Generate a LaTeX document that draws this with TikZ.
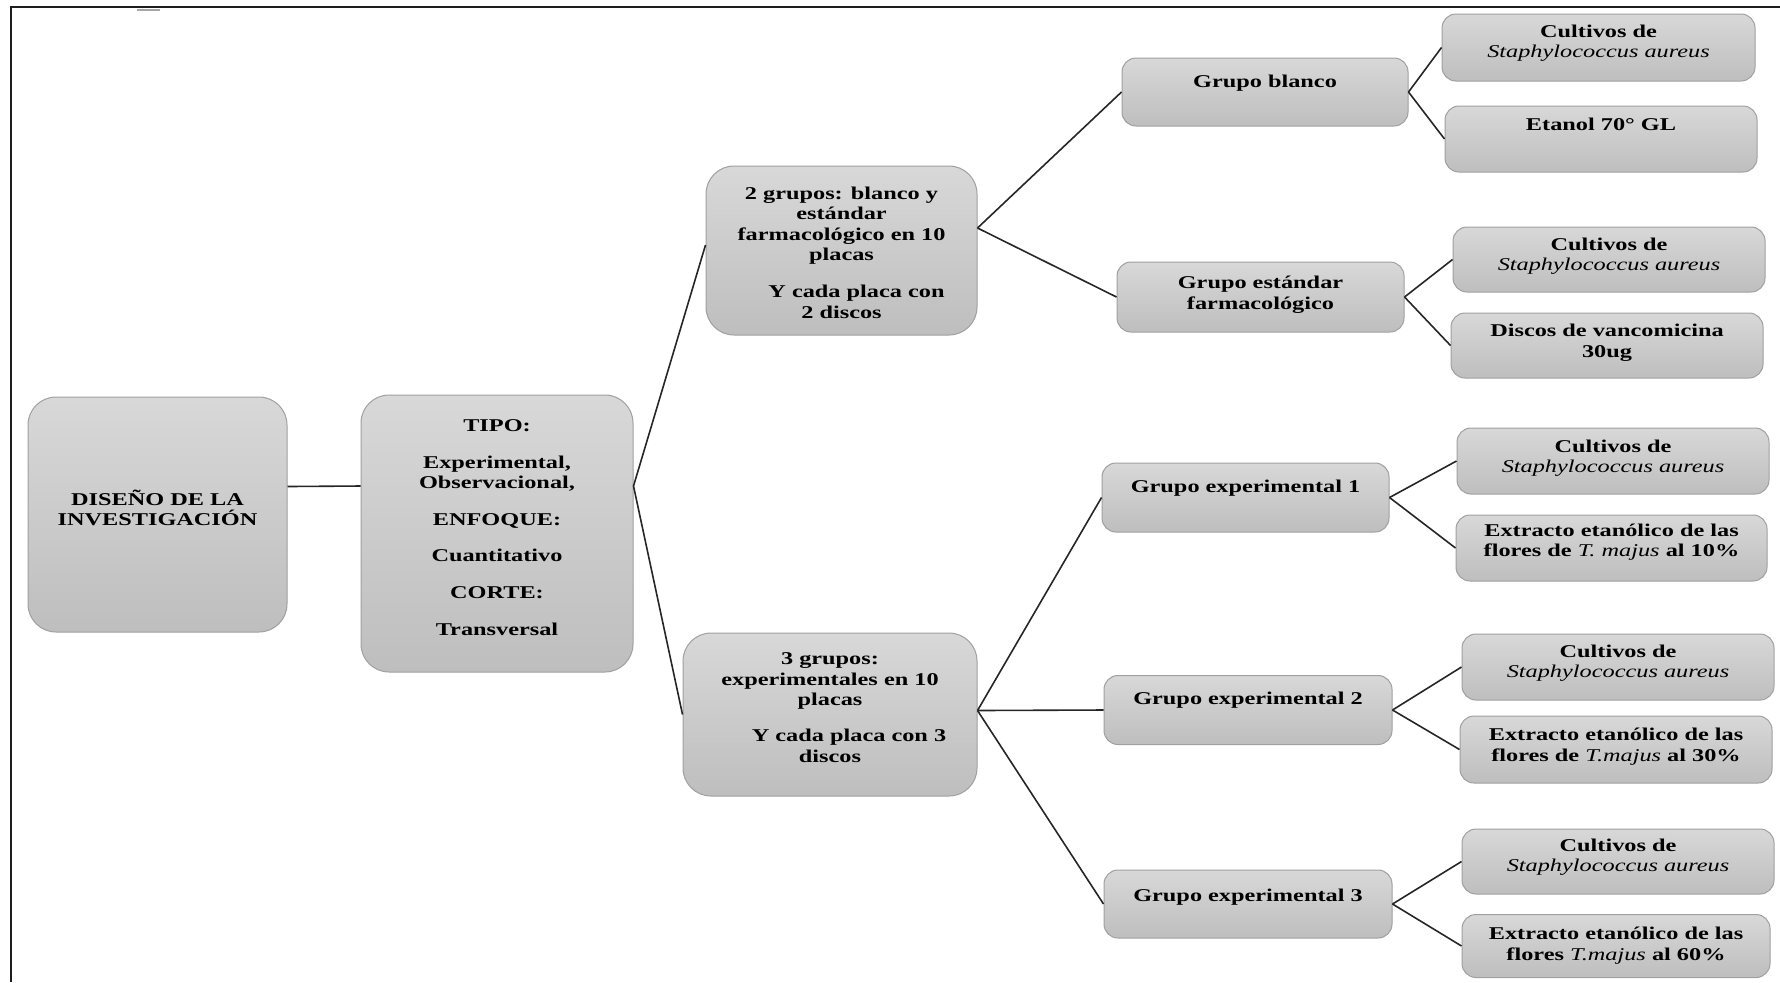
\documentclass[tikz,border=0pt]{standalone}
\usepackage{fontspec}
\setmainfont{Liberation Serif}[FakeStretch=1.35]
\definecolor{boxtop}{RGB}{216,216,216}
\definecolor{boxbot}{RGB}{190,190,190}
\definecolor{boxline}{RGB}{160,160,160}
\definecolor{framecol}{RGB}{30,30,30}
\tikzset{
  bx/.style={draw=boxline, line width=0.5pt, top color=boxtop, bottom color=boxbot, inner sep=0pt},
  tx/.style={font=\bfseries\fontsize{9pt}{10.3pt}\selectfont, align=center, inner sep=0pt},
  link/.style={draw=black!85, line width=0.8pt},
  big/.style={rounded corners=14pt},
  small/.style={rounded corners=7pt},
}
\newcommand{\spname}[1]{{\mdseries\itshape #1}}
\begin{document}
\begin{tikzpicture}[x=0.5pt,y=-0.5pt]
\useasboundingbox (0,0) rectangle (1780,982);
% frame
\coordinate (fa) at (11,982);
\coordinate (fb) at (11,7);
\coordinate (fc) at (1780,7);
\draw[framecol, line width=1pt] (fa) -- (fb) -- (fc);
\fill[gray!70] (137,8.5) rectangle (160,10.5);

% boxes
\node[bx,big, minimum width=129.5pt, minimum height=117.5pt] (d) at (157.5,514.5) {};
\node[bx,big, minimum width=136pt, minimum height=138.5pt] (t) at (497,533.5) {};
\node[bx,big, minimum width=135.5pt, minimum height=84.5pt] (up) at (841.5,250.5) {};
\node[bx,big, minimum width=147pt, minimum height=81.5pt] (lo) at (830,714.5) {};

\node[bx,small, minimum width=143pt, minimum height=34pt] (gb) at (1265,92) {};
\node[bx,small, minimum width=143.5pt, minimum height=35pt] (ge) at (1260.5,297) {};
\node[bx,small, minimum width=143.5pt, minimum height=34.5pt] (e1) at (1245.5,497.5) {};
\node[bx,small, minimum width=144pt, minimum height=34.5pt] (e2) at (1248,710) {};
\node[bx,small, minimum width=144pt, minimum height=34pt] (e3) at (1248,904) {};

\node[bx,small, minimum width=156.5pt, minimum height=33.5pt] (c1) at (1598.5,47.5) {};
\node[bx,small, minimum width=156pt, minimum height=33pt] (et) at (1601,139) {};
\node[bx,small, minimum width=156pt, minimum height=32.5pt] (c2) at (1609,259.5) {};
\node[bx,small, minimum width=156pt, minimum height=32.5pt] (dv) at (1607,345.5) {};
\node[bx,small, minimum width=156pt, minimum height=33pt] (c3) at (1613,461) {};
\node[bx,small, minimum width=155.5pt, minimum height=33pt] (x1) at (1611.5,548) {};
\node[bx,small, minimum width=156pt, minimum height=33pt] (c4) at (1618,667) {};
\node[bx,small, minimum width=156pt, minimum height=33.5pt] (x3) at (1616,749.5) {};
\node[bx,small, minimum width=156pt, minimum height=32.5pt] (c5) at (1618,861.5) {};
\node[bx,small, minimum width=154pt, minimum height=31.5pt] (x6) at (1616,946) {};

% texts
\node[tx] (dt) at (157.5,508) {DISEÑO DE LA\\INVESTIGACIÓN};
\node[tx] (tt) at (497,527.5) {TIPO:\\[8pt]Experimental,\\Observacional,\\[8pt]ENFOQUE:\\[8pt]Cuantitativo\\[8pt]CORTE:\\[8pt]Transversal};
\node[tx] (upt) at (841.5,252.5) {2 grupos: blanco y\\estándar\\farmacológico en 10\\placas\\[8pt]\hspace*{15pt}Y cada placa con\\2 discos};
\node[tx] (lot) at (830,707.5) {3 grupos:\\experimentales en 10\\placas\\[7.5pt]\hspace*{19pt}Y cada placa con 3\\discos};

\node[tx] (gbt) at (1265,83) {Grupo blanco};
\node[tx] (get) at (1260.5,295) {Grupo estándar\\farmacológico};
\node[tx] (e1t) at (1245.5,488) {Grupo experimental 1};
\node[tx] (e2t) at (1248,700) {Grupo experimental 2};
\node[tx] (e3t) at (1248,897) {Grupo experimental 3};

\node[tx] (c1t) at (1598.5,43) {Cultivos de\\\spname{Staphylococcus aureus}};
\node[tx] (ett) at (1601,124) {Etanol 70° GL};
\node[tx] (c2t) at (1609,256) {Cultivos de\\\spname{Staphylococcus aureus}};
\node[tx] (dvt) at (1607,343) {Discos de vancomicina\\30ug};
\node[tx] (c3t) at (1613,458) {Cultivos de\\\spname{Staphylococcus aureus}};
\node[tx] (x1t) at (1611.5,542) {Extracto etanólico de las\\flores de \spname{T. majus} al 10\%};
\node[tx] (c4t) at (1618,663) {Cultivos de\\\spname{Staphylococcus aureus}};
\node[tx] (x3t) at (1616,746.5) {Extracto etanólico de las\\flores de \spname{T.majus} al 30\%};
\node[tx] (c5t) at (1618,857) {Cultivos de\\\spname{Staphylococcus aureus}};
\node[tx] (x6t) at (1616,945.5) {Extracto etanólico de las\\flores \spname{T.majus} al 60\%};

% connectors
\draw[link] ([yshift=14pt]d.east) -- ([yshift=23.75pt]t.west);
\draw[link] ([yshift=23.75pt]t.east) -- ([yshift=2.75pt]up.west);
\draw[link] ([yshift=23.75pt]t.east) -- (lo.west);
\draw[link] ([yshift=11.25pt]up.east) -- (gb.west);
\draw[link] ([yshift=11.25pt]up.east) -- (ge.west);
\draw[link] ([yshift=2pt]lo.east) -- (e1.west);
\draw[link] ([yshift=2pt]lo.east) -- (e2.west);
\draw[link] ([yshift=2pt]lo.east) -- (e3.west);
\draw[link] (gb.east) -- (c1.west);
\draw[link] (gb.east) -- (et.west);
\draw[link] (ge.east) -- (c2.west);
\draw[link] (ge.east) -- (dv.west);
\draw[link] (e1.east) -- (c3.west);
\draw[link] (e1.east) -- (x1.west);
\draw[link] (e2.east) -- (c4.west);
\draw[link] (e2.east) -- (x3.west);
\draw[link] (e3.east) -- (c5.west);
\draw[link] (e3.east) -- (x6.west);
\end{tikzpicture}
\end{document}
